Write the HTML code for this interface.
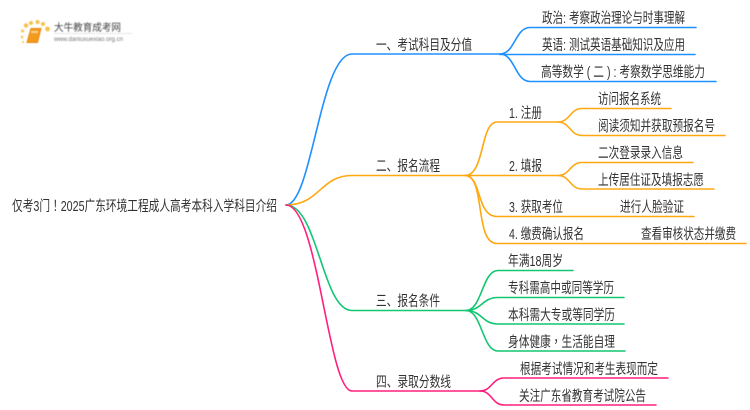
<!DOCTYPE html>
<html><head><meta charset="utf-8"><style>
html,body{margin:0;padding:0;background:#fff;width:750px;height:410px;overflow:hidden}
svg{display:block}
text{font-family:"Liberation Sans","Noto Sans CJK SC",sans-serif;font-size:14.5px;fill:#333}
.tc{font-family:"Noto Sans CJK TC",sans-serif}
path{fill:none;stroke-width:1.6;stroke-linecap:round}
</style></head><body>
<svg width="750" height="410" viewBox="0 0 750 410">
<defs>
<filter id="b" x="-10%" y="-10%" width="120%" height="120%"><feGaussianBlur stdDeviation="0.45"/></filter>
<filter id="t" x="-5%" y="-20%" width="110%" height="140%"><feGaussianBlur stdDeviation="0.3"/></filter>
</defs>
<!-- logo -->
<g filter="url(#b)">
<g fill="#f8c04a">
<circle cx="26" cy="25.5" r="2.2"/><circle cx="31" cy="23" r="2"/><circle cx="37.5" cy="22" r="2"/><circle cx="43" cy="24" r="2"/><circle cx="47.5" cy="29" r="2.4"/>
<circle cx="22.5" cy="31" r="1.5"/><circle cx="22" cy="37" r="1.3"/><circle cx="23" cy="42" r="1"/>
</g>
<path d="M31 28.5 L41 28.5 L37.5 42.5 L27 42.5 Z" style="fill:#f29a1e;stroke:#e8850f;stroke-width:1"/>
<rect x="31" y="31" width="7" height="2" fill="#fbd27e"/>
<text x="54" y="31" textLength="67" lengthAdjust="spacingAndGlyphs" style="font-size:10px;fill:#444">大牛教育成考网</text>
<text x="54" y="41" textLength="69" lengthAdjust="spacingAndGlyphs" style="font-size:6.5px;fill:#777">www.daniuxuexiao.org.cn</text>
<rect x="54" y="33" width="78" height="1" fill="#e6e6e6"/>
</g>
<!-- blue -->
<path stroke="#1e90ff" d="M286 205 C312 205 320 54 352 54 L500 54"/>
<path stroke="#1e90ff" d="M500 54 C515 54 515 27.5 530 27.5 L696 27.5"/>
<path stroke="#1e90ff" d="M500 54.5 L695 54.5"/>
<path stroke="#1e90ff" d="M500 54 C515 54 515 81.5 530 81.5 L716 81.5"/>
<!-- orange -->
<path stroke="#ffa812" d="M286 205 C320 205 320 175.5 352 175.5 L465 175.5"/>
<path stroke="#ffa812" d="M465 175.5 C485 175.5 480 122 497 122 L558 122"/>
<path stroke="#ffa812" d="M465 175.5 L558 175.5"/>
<path stroke="#ffa812" d="M465 175.5 C482 175.5 476 216.5 497 216.5 L694 216.5"/>
<path stroke="#ffa812" d="M465 175.5 C486 175.5 474 243.5 497 243.5 L746 243.5"/>
<path stroke="#ffa812" d="M558 122 C570 122 570 108.5 582 108.5 L671 108.5"/>
<path stroke="#ffa812" d="M558 122 C570 122 570 135.5 582 135.5 L725 135.5"/>
<path stroke="#ffa812" d="M558 175.5 C570 175.5 570 162.5 582 162.5 L693 162.5"/>
<path stroke="#ffa812" d="M558 175.5 C570 175.5 570 189 582 189 L714 189"/>
<!-- green -->
<path stroke="#12c672" d="M286 205 C318 205 322 310.5 352 310.5 L466 310.5"/>
<path stroke="#12c672" d="M466 310.5 C482 310.5 482 270.5 498 270.5 L573 270.5"/>
<path stroke="#12c672" d="M466 310.5 C482 310.5 482 297.5 498 297.5 L624 297.5"/>
<path stroke="#12c672" d="M466 310.5 C482 310.5 482 324 498 324 L624 324"/>
<path stroke="#12c672" d="M466 310.5 C482 310.5 482 351 498 351 L625 351"/>
<!-- pink -->
<path stroke="#ff1f7d" d="M286 205 C318 205 328 391 352 391 L480 391"/>
<path stroke="#ff1f7d" d="M480 391 C492 391 492 378 504 378 L668 378"/>
<path stroke="#ff1f7d" d="M480 391 C492 391 492 405 504 405 L656 405"/>
<!-- labels -->
<g filter="url(#t)">
<text x="12" y="211" textLength="265" lengthAdjust="spacingAndGlyphs">仅考3门<tspan class="tc">！</tspan>2025广东环境工程成人高考本科入学科目介绍</text>
<text x="376" y="50" textLength="96" lengthAdjust="spacingAndGlyphs">一、考试科目及分值</text>
<text x="376" y="171" textLength="64" lengthAdjust="spacingAndGlyphs">二、报名流程</text>
<text x="376" y="306" textLength="64" lengthAdjust="spacingAndGlyphs">三、报名条件</text>
<text x="376" y="387" textLength="75" lengthAdjust="spacingAndGlyphs">四、录取分数线</text>
<text x="542" y="23" textLength="143" lengthAdjust="spacingAndGlyphs">政治: 考察政治理论与时事理解</text>
<text x="542" y="50" textLength="143" lengthAdjust="spacingAndGlyphs">英语: 测试英语基础知识及应用</text>
<text x="541" y="77" textLength="164" lengthAdjust="spacingAndGlyphs">高等数学 ( 二 ) : 考察数学思维能力</text>
<text x="509" y="118" textLength="33" lengthAdjust="spacingAndGlyphs">1. 注册</text>
<text x="598" y="104" textLength="63" lengthAdjust="spacingAndGlyphs">访问报名系统</text>
<text x="598" y="131" textLength="117" lengthAdjust="spacingAndGlyphs">阅读须知并获取预报名号</text>
<text x="509" y="171" textLength="33" lengthAdjust="spacingAndGlyphs">2. 填报</text>
<text x="598" y="158" textLength="85" lengthAdjust="spacingAndGlyphs">二次登录录入信息</text>
<text x="598" y="185" textLength="106" lengthAdjust="spacingAndGlyphs">上传居住证及填报志愿</text>
<text x="509" y="212" textLength="54" lengthAdjust="spacingAndGlyphs">3. 获取考位</text>
<text x="620" y="212" textLength="64" lengthAdjust="spacingAndGlyphs">进行人脸验证</text>
<text x="509" y="239" textLength="75" lengthAdjust="spacingAndGlyphs">4. 缴费确认报名</text>
<text x="641" y="239" textLength="95" lengthAdjust="spacingAndGlyphs">查看审核状态并缴费</text>
<text x="508" y="266" textLength="55" lengthAdjust="spacingAndGlyphs">年满18周岁</text>
<text x="508" y="293" textLength="106" lengthAdjust="spacingAndGlyphs">专科需高中或同等学历</text>
<text x="508" y="320" textLength="107" lengthAdjust="spacingAndGlyphs">本科需大专或等同学历</text>
<text x="508" y="347" textLength="107" lengthAdjust="spacingAndGlyphs">身体健康<tspan class="tc">，</tspan>生活能自理</text>
<text x="520" y="374" textLength="138" lengthAdjust="spacingAndGlyphs">根据考试情况和考生表现而定</text>
<text x="519" y="401" textLength="127" lengthAdjust="spacingAndGlyphs">关注广东省教育考试院公告</text>
</g>
</svg>
</body></html>
